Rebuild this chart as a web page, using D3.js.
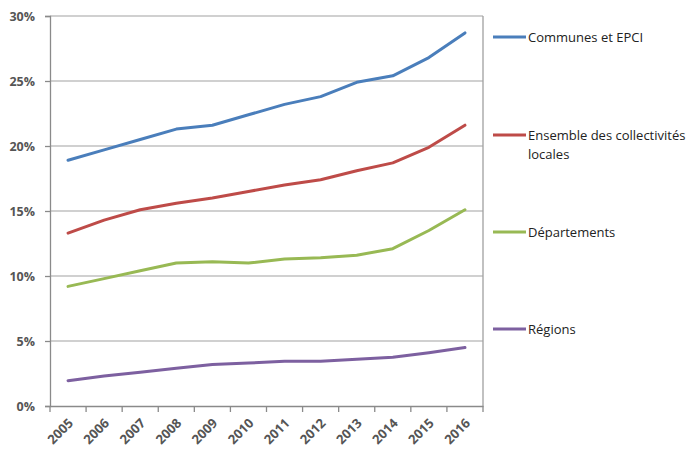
<!DOCTYPE html>
<html><head><meta charset="utf-8">
<script src="https://cdn.jsdelivr.net/npm/d3@7"></script>
<style>body{margin:0;background:#fff;} svg{display:block;}</style>
</head><body>
<script>
const years = ["2005","2006","2007","2008","2009","2010","2011","2012","2013","2014","2015","2016"];
const communes = [18.9,19.7,20.5,21.3,21.6,22.4,23.2,23.8,24.9,25.4,26.8,28.7];
const ensemble = [13.3,14.3,15.1,15.6,16.0,16.5,17.0,17.4,18.1,18.7,19.9,21.6];
const departements = [9.2,9.8,10.4,11.0,11.1,11.0,11.3,11.4,11.6,12.1,13.5,15.1];
const regions = [1.95,2.3,2.6,2.9,3.2,3.3,3.45,3.45,3.6,3.75,4.1,4.5];
const yTicks = [0,5,10,15,20,25,30];
const seriesNames = [["Communes et EPCI"],["Ensemble des collectivités","locales"],["Départements"],["Régions"]];
const colors = ["#4a7ebb","#be4b48","#98b954","#7d60a0"];

const W=691,H=449;
const L=50,R=483,T=16,B=406;
const svg=d3.select("body").append("svg").attr("width",W).attr("height",H);
const x=d3.scaleBand().domain(years).range([L,R]);
const y=d3.scaleLinear().domain([0,30]).range([B,T]);
const font="'Open Sans', 'Liberation Sans', sans-serif";

// gridlines
svg.append("g").selectAll("line").data(yTicks.filter(d=>d>0)).join("line")
 .attr("x1",L).attr("x2",R).attr("y1",d=>y(d)).attr("y2",d=>y(d))
 .attr("stroke","#c0c0c0").attr("stroke-width",1.3);
// box right border
svg.append("line").attr("x1",R).attr("x2",R).attr("y1",T).attr("y2",B).attr("stroke","#a0a0a0").attr("stroke-width",1.3);

// y axis
const ya=svg.append("g").attr("transform",`translate(${L},0)`)
 .call(d3.axisLeft(y).tickValues(yTicks).tickFormat(d=>d+"%").tickSize(5).tickPadding(10));
ya.select(".domain").attr("stroke","#8a8a8a").attr("stroke-width",1.3);
ya.selectAll(".tick line").attr("stroke","#8a8a8a").attr("stroke-width",1.3);
ya.selectAll("text").attr("font-family",font).attr("font-size",12.5).attr("font-weight","bold").attr("fill","#555");

// x axis
const xa=svg.append("g").attr("transform",`translate(0,${B})`)
 .call(d3.axisBottom(x).tickSize(0).tickFormat(""));
xa.select(".domain").attr("stroke","#8a8a8a").attr("stroke-width",1.3);
svg.append("g").selectAll("line").data(years.concat(["end"])).join("line")
 .attr("x1",(d,i)=>L+i*x.step()).attr("x2",(d,i)=>L+i*x.step())
 .attr("y1",B).attr("y2",B+6).attr("stroke","#8a8a8a").attr("stroke-width",1.3);
svg.append("g").selectAll("text").data(years).join("text")
 .attr("transform",d=>`translate(${x(d)+x.bandwidth()/2+6},${B+18}) rotate(-45)`)
 .attr("text-anchor","end").attr("font-family",font).attr("font-size",13).attr("font-weight","bold")
 .attr("fill","#555").text(d=>d);

// lines
const all=[communes,ensemble,departements,regions];
const line=d3.line().x((d,i)=>x(years[i])+x.bandwidth()/2).y(d=>y(d));
all.forEach((s,k)=>{
 svg.append("path").attr("d",line(s)).attr("fill","none").attr("stroke",colors[k])
  .attr("stroke-width",3).attr("stroke-linejoin","round").attr("stroke-linecap","round");
});

// legend
const legY=[37,135,232,329];
seriesNames.forEach((names,k)=>{
 svg.append("line").attr("x1",493).attr("x2",526).attr("y1",legY[k]).attr("y2",legY[k])
  .attr("stroke",colors[k]).attr("stroke-width",3);
 names.forEach((n,j)=>{
  svg.append("text").attr("x",528).attr("y",legY[k]+j*19).attr("dy","0.35em")
   .attr("font-family",font).attr("font-size",13).attr("fill","#222").text(n);
 });
});
</script>
</body></html>
